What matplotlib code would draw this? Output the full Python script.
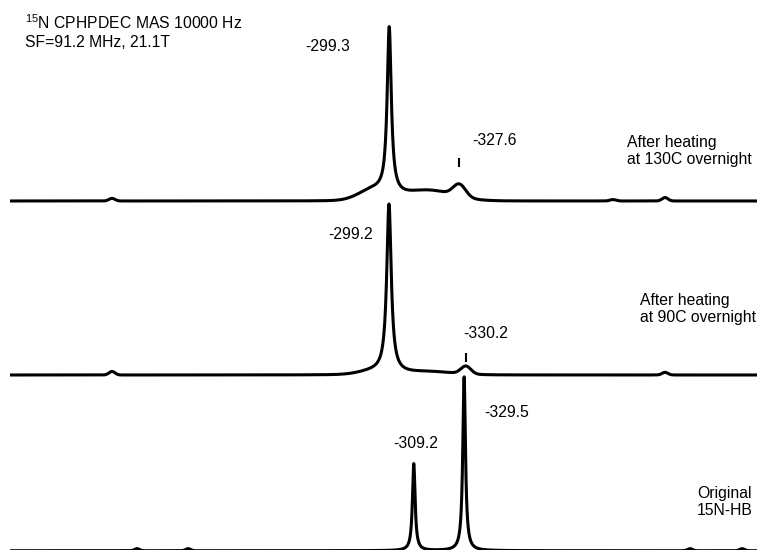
import numpy as np
import matplotlib.pyplot as plt

plt.rcParams['font.family'] = ['Liberation Sans', 'DejaVu Sans']
plt.rcParams['mathtext.default'] = 'regular'

# Eje de desplazamiento quimico (ppm), de -147 a -447
ppm = np.linspace(-147, -447, 4000)

# Picos estrechos (lorentzianos): posicion, altura, anchura a media altura
top_pos = [-299.3]
top_amp = [0.95]
top_fwhm = [2.0]
mid_pos = [-299.2]
mid_amp = [0.965]
mid_fwhm = [2.2]
bot_pos = [-309.2, -329.5]
bot_amp = [0.5, 1.0]
bot_fwhm = [1.3, 1.3]

# Componentes anchas y pequenas (gaussianas): posicion, altura, sigma
top_b_pos = [-293.0, -315.0, -327.6, -187.5, -389.5, -410.5]
top_b_amp = [0.06, 0.06, 0.07, 0.015, 0.008, 0.02]
top_b_sig = [6.0, 10.0, 2.5, 1.2, 1.2, 1.2]
mid_b_pos = [-293.5, -315.0, -330.2, -187.5, -410.5]
mid_b_amp = [0.02, 0.018, 0.045, 0.02, 0.015]
mid_b_sig = [6.0, 10.0, 2.0, 1.2, 1.2]
bot_b_pos = [-197.6, -218.2, -420.6, -441.6]
bot_b_amp = [0.012, 0.012, 0.012, 0.012]
bot_b_sig = [1.0, 1.0, 1.0, 1.0]

# Desplazamiento vertical de cada espectro
offsets = [2.0, 1.0, -0.010]


def espectro(pos, amp, fwhm, bpos, bamp, bsig):
    y = np.zeros_like(ppm)
    for p, a, w in zip(pos, amp, fwhm):
        y += a / (1 + ((ppm - p) / (w / 2)) ** 2)
    for p, a, s in zip(bpos, bamp, bsig):
        y += a * np.exp(-((ppm - p) ** 2) / (2 * s ** 2))
    return y


top = espectro(top_pos, top_amp, top_fwhm, top_b_pos, top_b_amp, top_b_sig)
mid = espectro(mid_pos, mid_amp, mid_fwhm, mid_b_pos, mid_b_amp, mid_b_sig)
bot = espectro(bot_pos, bot_amp, bot_fwhm, bot_b_pos, bot_b_amp, bot_b_sig)

fig = plt.figure(figsize=(7.57, 5.5), dpi=100)
ax = fig.add_axes([0, 0, 1, 1])

for y, off in zip([top, mid, bot], offsets):
    ax.plot(ppm, y + off, color='black', lw=2.2, solid_joinstyle='round')

ax.set_xlim(-142.35, -447.6)
ax.set_ylim(-0.00575, 3.155)
ax.axis('off')

fs = 11.3
# Etiquetas de los picos
ax.text(-274.6, 2.89, '-299.3', ha='center', va='center', fontsize=fs)
ax.vlines(-327.6, 2.195, 2.247, color='black', lw=1.5)
ax.text(-332.7, 2.35, '-327.6', ha='left', va='center', fontsize=fs)

ax.text(-292.75, 1.805, '-299.2', ha='right', va='center', fontsize=fs)
ax.vlines(-330.2, 1.075, 1.126, color='black', lw=1.5)
ax.text(-329.0, 1.241, '-330.2', ha='left', va='center', fontsize=fs)

ax.text(-309.9, 0.609, '-309.2', ha='center', va='center', fontsize=fs)
ax.text(-337.5, 0.782, '-329.5', ha='left', va='center', fontsize=fs)

# Descripcion de cada muestra
ax.text(-395.2, 2.287, 'After heating\nat 130C overnight', ha='left',
        va='center', fontsize=fs, linespacing=1.15)
ax.text(-400.5, 1.379, 'After heating\nat 90C overnight', ha='left',
        va='center', fontsize=fs, linespacing=1.15)
ax.text(-423.4, 0.27, 'Original\n15N-HB', ha='left', va='center',
        fontsize=fs, linespacing=1.15)

# Condiciones del experimento
ax.text(0.033, 0.958, '$^{15}$N CPHPDEC MAS 10000 Hz', transform=ax.transAxes,
        ha='left', va='center', fontsize=fs)
ax.text(0.033, 0.922, 'SF=91.2 MHz, 21.1T', transform=ax.transAxes,
        ha='left', va='center', fontsize=fs)

plt.savefig('out.png', dpi=100)
